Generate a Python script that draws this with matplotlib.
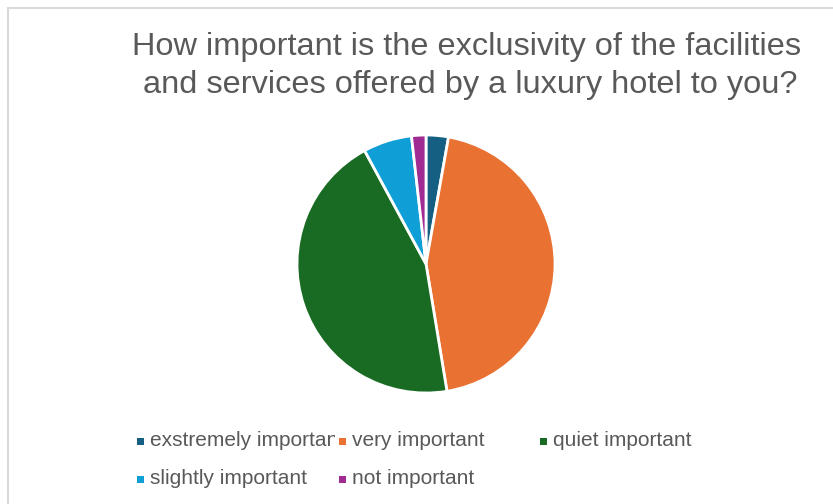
import matplotlib
matplotlib.use("Agg")
import matplotlib.pyplot as plt
from matplotlib.patches import Rectangle
from matplotlib.transforms import Bbox, TransformedBbox

plt.rcParams["font.family"] = ["Liberation Sans", "DejaVu Sans"]

# survey answers, share of respondents (%)
labels = ["exstremely important", "very important", "quiet important",
          "slightly important", "not important"]
shares = [2.8, 44.6, 44.7, 6.1, 1.8]
colors = ["#156082", "#E97132", "#196B24", "#0F9ED5", "#A02B93"]

title_lines = ["How important is the exclusivity of the facilities",
               "and services offered by a luxury hotel to you?"]

W, H = 833, 504
fig = plt.figure(figsize=(W / 100, H / 100), dpi=100)
fig.patch.set_facecolor("white")


def fx(px):
    return px / W


def fy(py):
    return 1 - py / H


# chart area border (runs off the right and bottom edges)
fig.add_artist(Rectangle((fx(8), fy(560)), fx(1000), 552 / H,
                         transform=fig.transFigure, fill=False,
                         edgecolor="#d9d9d9", linewidth=1.5))

# title, two centred lines
fig.text(fx(467), fy(55), title_lines[0], ha="center", va="baseline",
         fontsize=23.4, color="#595959")
fig.text(fx(470), fy(93), title_lines[1], ha="center", va="baseline",
         fontsize=23.4, color="#595959")

# pie
cx, cy, r = 426, 264, 129
ax = fig.add_axes([fx(cx - r), fy(cy + r), 2 * r / W, 2 * r / H])
ax.pie(shares, colors=colors, startangle=90, counterclock=False, radius=1,
       wedgeprops=dict(edgecolor="white", linewidth=2))
ax.set_xlim(-1, 1)
ax.set_ylim(-1, 1)
ax.set_aspect("auto")
ax.axis("off")

# legend: three columns, text clipped to the column width
col_x = [137, 339, 540]
row_y = [446, 484]
for i, (lab, col) in enumerate(zip(labels, colors)):
    row, c = divmod(i, 3)
    x0, base = col_x[c], row_y[row]
    fig.add_artist(Rectangle((fx(x0), fy(base - 1)), fx(7), 7 / H,
                             transform=fig.transFigure, facecolor=col,
                             edgecolor="none"))
    t = fig.text(fx(x0 + 13), fy(base), lab, ha="left", va="baseline",
                 fontsize=15, color="#595959")
    clip = TransformedBbox(Bbox([[fx(x0 + 10), 0], [fx(x0 + 198), 1]]),
                           fig.transFigure)
    t.set_clip_box(clip)
    t.set_clip_on(True)

fig.savefig("out.png", dpi=100, facecolor="white")
